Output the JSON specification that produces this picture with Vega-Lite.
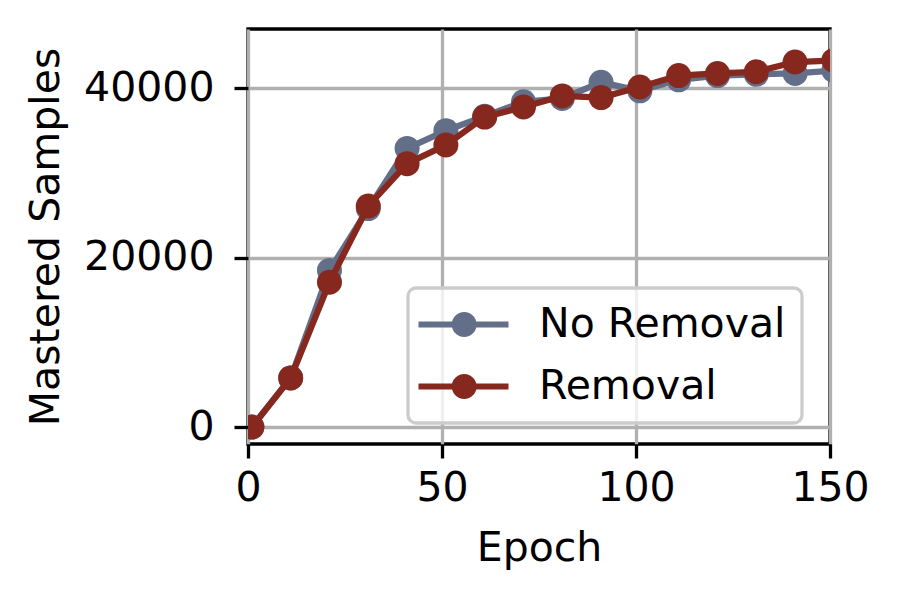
{
  "$schema": "https://vega.github.io/schema/vega-lite/v6.json",
  "width": 582,
  "height": 415,
  "autosize": "none",
  "padding": {"left": 248, "top": 29, "right": 69, "bottom": 157},
  "background": "white",
  "data": {
    "values": [
      {"epoch": 1, "series": "No Removal", "value": 0},
      {"epoch": 11, "series": "No Removal", "value": 5800},
      {"epoch": 21, "series": "No Removal", "value": 18500},
      {"epoch": 31, "series": "No Removal", "value": 25800},
      {"epoch": 41, "series": "No Removal", "value": 32900},
      {"epoch": 51, "series": "No Removal", "value": 35000},
      {"epoch": 61, "series": "No Removal", "value": 36700},
      {"epoch": 71, "series": "No Removal", "value": 38400},
      {"epoch": 81, "series": "No Removal", "value": 38800},
      {"epoch": 91, "series": "No Removal", "value": 40700},
      {"epoch": 101, "series": "No Removal", "value": 39700},
      {"epoch": 111, "series": "No Removal", "value": 41000},
      {"epoch": 121, "series": "No Removal", "value": 41500},
      {"epoch": 131, "series": "No Removal", "value": 41650},
      {"epoch": 141, "series": "No Removal", "value": 41750},
      {"epoch": 151, "series": "No Removal", "value": 42100},
      {"epoch": 1, "series": "Removal", "value": 0},
      {"epoch": 11, "series": "Removal", "value": 5800},
      {"epoch": 21, "series": "Removal", "value": 17100},
      {"epoch": 31, "series": "Removal", "value": 26100},
      {"epoch": 41, "series": "Removal", "value": 31100},
      {"epoch": 51, "series": "Removal", "value": 33300},
      {"epoch": 61, "series": "Removal", "value": 36600},
      {"epoch": 71, "series": "Removal", "value": 37800},
      {"epoch": 81, "series": "Removal", "value": 39100},
      {"epoch": 91, "series": "Removal", "value": 38900},
      {"epoch": 101, "series": "Removal", "value": 40150},
      {"epoch": 111, "series": "Removal", "value": 41500},
      {"epoch": 121, "series": "Removal", "value": 41750},
      {"epoch": 131, "series": "Removal", "value": 41950},
      {"epoch": 141, "series": "Removal", "value": 43100},
      {"epoch": 151, "series": "Removal", "value": 43300}
    ]
  },
  "encoding": {
    "x": {
      "field": "epoch",
      "type": "quantitative",
      "scale": {"domain": [0, 150], "nice": false, "zero": false},
      "axis": {"title": "Epoch", "values": [0, 50, 100, 150], "titlePadding": 20, "labelPadding": 10}
    },
    "y": {
      "field": "value",
      "type": "quantitative",
      "scale": {"domain": [-2000, 47000], "nice": false, "zero": false},
      "axis": {"title": "Mastered Samples", "values": [0, 20000, 40000], "format": "d", "titlePadding": 16, "labelPadding": 20}
    },
    "color": {
      "field": "series",
      "type": "nominal",
      "scale": {"domain": ["No Removal", "Removal"], "range": ["#636f89", "#86281e"]},
      "legend": {
        "title": null,
        "orient": "none",
        "legendX": 160,
        "legendY": 259,
        "fillColor": "rgba(255,255,255,0.8)",
        "strokeColor": "#cccccc",
        "cornerRadius": 8,
        "padding": 16,
        "symbolType": "M-1.733,-0.2H4.267V0.2H-1.733Z M0.48,0A0.833,0.833,0,1,1,2.146,0A0.833,0.833,0,1,1,0.48,0Z",
        "symbolSize": 900,
        "symbolStrokeWidth": 0,
        "symbolOpacity": 1,
        "labelFont": "DejaVu Sans",
        "labelFontSize": 41,
        "labelColor": "black",
        "labelOffset": 74,
        "labelLimit": 0,
        "rowPadding": 20,
        "encode": {"legend": {"update": {"strokeWidth": {"value": 3.3}}}}
      }
    }
  },
  "layer": [
    {
      "transform": [{"filter": "datum.series === 'No Removal'"}],
      "mark": {"type": "line", "strokeWidth": 6.25, "clip": true}
    },
    {
      "transform": [{"filter": "datum.series === 'No Removal'"}],
      "mark": {"type": "point", "filled": true, "opacity": 1, "size": 625, "clip": true}
    },
    {
      "transform": [{"filter": "datum.series === 'Removal'"}],
      "mark": {"type": "line", "strokeWidth": 6.25, "clip": true}
    },
    {
      "transform": [{"filter": "datum.series === 'Removal'"}],
      "mark": {"type": "point", "filled": true, "opacity": 1, "size": 625, "clip": true}
    }
  ],
  "config": {
    "view": {"stroke": "black", "strokeWidth": 3.3},
    "font": "DejaVu Sans",
    "axis": {
      "domain": false,
      "grid": true,
      "gridColor": "#b0b0b0",
      "gridWidth": 3.3,
      "tickColor": "black",
      "tickSize": 14,
      "tickWidth": 3.3,
      "labelFont": "DejaVu Sans",
      "labelFontSize": 41,
      "labelColor": "black",
      "labelFlush": false,
      "labelOverlap": false,
      "titleFont": "DejaVu Sans",
      "titleFontSize": 41,
      "titleFontWeight": "normal",
      "titleColor": "black"
    }
  }
}
